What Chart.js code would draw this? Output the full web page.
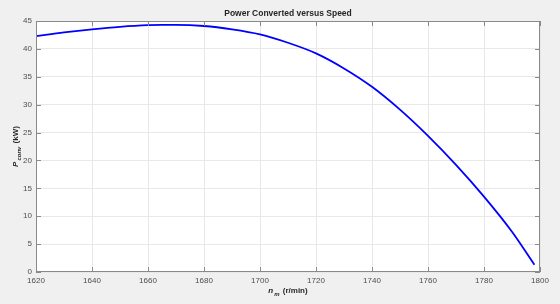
<!DOCTYPE html>
<html>
<head>
<meta charset="utf-8">
<script src="https://cdn.jsdelivr.net/npm/chart.js@4.4.1/dist/chart.umd.min.js"></script>
<style>
  html, body { margin: 0; padding: 0; background: #f0f0f0; }
  #wrap { width: 560px; height: 304px; }
</style>
</head>
<body>
<div id="wrap"><canvas id="grafica" width="560" height="304"></canvas></div>
<script>
// speed (r/min) and converted power (kW)
const speeds = [1620, 1630, 1640, 1650, 1660, 1665, 1670, 1680, 1690, 1700, 1710, 1720, 1730, 1740, 1750, 1760, 1770, 1780, 1790, 1798];
const power  = [42.3, 42.95, 43.5, 43.95, 44.25, 44.3, 44.3, 44.1, 43.5, 42.6, 41.1, 39.2, 36.5, 33.2, 29.1, 24.4, 19.2, 13.5, 7.2, 1.3];
const xTicks = [1620, 1640, 1660, 1680, 1700, 1720, 1740, 1760, 1780, 1800];
const yTicks = [0, 5, 10, 15, 20, 25, 30, 35, 40, 45];

const chartTitle = 'Power Converted versus Speed';
const textColor = '#4d4d4d';
const gridColor = '#e8e8e8';
const axisColor = '#8a8a8a';
const fontFamily = "'Liberation Sans', Arial, sans-serif";

// texto con subindice (P_conv, n_m)
function drawSub(ctx, main, sub, rest, x, y, rotate) {
  ctx.save();
  ctx.translate(x, y);
  if (rotate) ctx.rotate(-Math.PI / 2);
  const fMain = 'italic bold 8px ' + fontFamily;
  const fSub = 'italic bold 6px ' + fontFamily;
  const fRest = 'bold 8px ' + fontFamily;
  ctx.font = fMain; const w1 = ctx.measureText(main).width;
  ctx.font = fSub; const w2 = ctx.measureText(sub).width;
  ctx.font = fRest; const w3 = ctx.measureText(rest).width;
  let cx = -(w1 + w2 + w3 + 2) / 2;
  ctx.fillStyle = '#262626';
  ctx.textBaseline = 'middle';
  ctx.textAlign = 'left';
  ctx.font = fMain; ctx.fillText(main, cx, 0); cx += w1 + 1;
  ctx.font = fSub; ctx.fillText(sub, cx, 3); cx += w2 + 1;
  ctx.font = fRest; ctx.fillText(rest, cx, 0);
  ctx.restore();
}

const marcoPlugin = {
  id: 'marco',
  beforeDraw(chart) {
    const { ctx, chartArea: a } = chart;
    ctx.save();
    ctx.fillStyle = '#f0f0f0';
    ctx.fillRect(0, 0, chart.width, chart.height);
    ctx.fillStyle = '#ffffff';
    ctx.fillRect(a.left, a.top, a.right - a.left, a.bottom - a.top);
    ctx.restore();
  },
  afterDraw(chart) {
    const { ctx, chartArea: a, scales } = chart;
    ctx.save();
    ctx.strokeStyle = axisColor;
    ctx.lineWidth = 1;
    ctx.strokeRect(a.left + 0.5, a.top + 0.5, a.right - a.left - 1, a.bottom - a.top - 1);
    // ticks hacia dentro
    ctx.beginPath();
    xTicks.forEach(v => {
      const px = Math.round(scales.x.getPixelForValue(v)) + 0.5;
      ctx.moveTo(px, a.bottom); ctx.lineTo(px, a.bottom - 5);
      ctx.moveTo(px, a.top); ctx.lineTo(px, a.top + 5);
    });
    yTicks.forEach(v => {
      const py = Math.round(scales.y.getPixelForValue(v)) + 0.5;
      ctx.moveTo(a.left, py); ctx.lineTo(a.left + 5, py);
      ctx.moveTo(a.right, py); ctx.lineTo(a.right - 5, py);
    });
    ctx.stroke();

    // titulo
    ctx.fillStyle = '#262626';
    ctx.font = 'bold 8.5px ' + fontFamily;
    ctx.textAlign = 'center';
    ctx.textBaseline = 'middle';
    ctx.fillText(chartTitle, (a.left + a.right) / 2, 14);

    drawSub(ctx, 'n', 'm', ' (r/min)', (a.left + a.right) / 2, 291, false);
    drawSub(ctx, 'P', 'conv', ' (kW)', 16, (a.top + a.bottom) / 2, true);
    ctx.restore();
  }
};

new Chart(document.getElementById('grafica').getContext('2d'), {
  type: 'scatter',
  data: {
    datasets: [{
      label: 'Pconv',
      data: speeds.map((s, i) => ({ x: s, y: power[i] })),
      showLine: true,
      borderColor: '#0000ff',
      borderWidth: 1.8,
      pointRadius: 0,
      cubicInterpolationMode: 'monotone'
    }]
  },
  options: {
    responsive: false,
    animation: false,
    layout: { padding: { top: 21, right: 20, left: 0, bottom: 0 } },
    plugins: { legend: { display: false }, tooltip: { enabled: false } },
    scales: {
      x: {
        type: 'linear', min: 1620, max: 1800,
        afterBuildTicks: s => { s.ticks = xTicks.map(v => ({ value: v })); },
        afterFit: s => { s.height = 32; },
        grid: { color: gridColor, drawTicks: false },
        border: { display: false },
        ticks: { color: textColor, font: { family: fontFamily, size: 8 }, padding: 4, maxRotation: 0, autoSkip: false,
                 callback: v => String(v) }
      },
      y: {
        type: 'linear', min: 0, max: 45,
        afterBuildTicks: s => { s.ticks = yTicks.map(v => ({ value: v })); },
        afterFit: s => { s.width = 36; },
        grid: { color: gridColor, drawTicks: false },
        border: { display: false },
        ticks: { color: textColor, font: { family: fontFamily, size: 8 }, padding: 4, autoSkip: false,
                 callback: v => String(v) }
      }
    }
  },
  plugins: [marcoPlugin]
});
</script>
</body>
</html>
